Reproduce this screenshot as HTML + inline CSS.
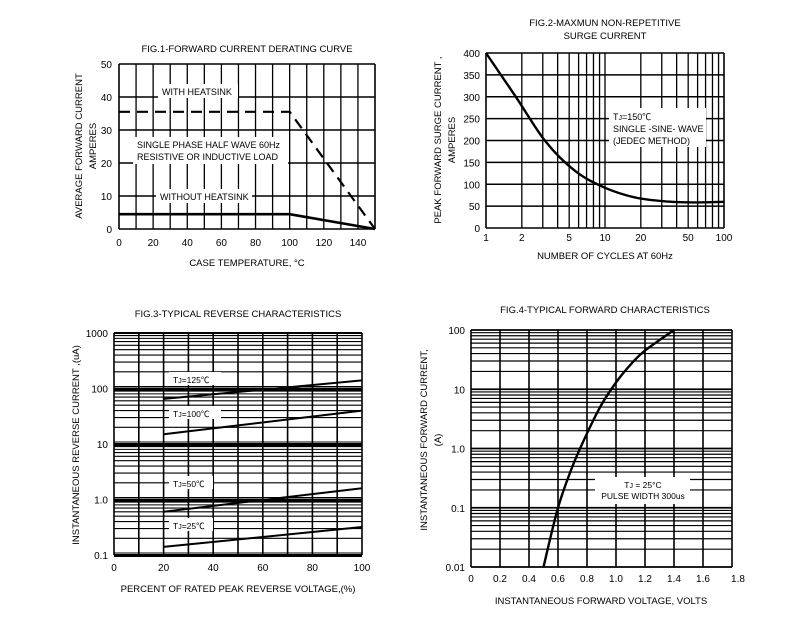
<!DOCTYPE html>
<html><head><meta charset="utf-8"><style>
html,body{margin:0;padding:0;background:#fff;}
svg{display:block;font-family:"Liberation Sans","Noto Sans CJK SC",sans-serif;}
</style></head><body>
<svg id="s" width="790" height="627" viewBox="0 0 790 627" xmlns="http://www.w3.org/2000/svg"></svg>
<script>
var s=document.getElementById('s'),o='';
function L(x1,y1,x2,y2,w,extra){o+='<line x1="'+x1+'" y1="'+y1+'" x2="'+x2+'" y2="'+y2+'" stroke="#000" stroke-width="'+(w||1.3)+'" '+(extra||'')+'/>';}
function T(x,y,t,a,sz,extra){o+='<text x="'+x+'" y="'+y+'" font-size="'+(sz||9.5)+'" text-anchor="'+(a||'middle')+'" '+(extra||'')+'>'+t+'</text>';}
function R(x,y,w,h){o+='<rect x="'+x+'" y="'+y+'" width="'+w+'" height="'+h+'" fill="#fff"/>';}
function P(pts,w,extra){o+='<polyline fill="none" stroke="#000" stroke-width="'+w+'" points="'+pts.map(function(p){return p[0].toFixed(1)+','+p[1].toFixed(1)}).join(' ')+'" '+(extra||'')+'/>';}
function CR(p,w){var d='M'+p[0][0].toFixed(1)+','+p[0][1].toFixed(1);
 for(var i=0;i<p.length-1;i++){var a=p[Math.max(i-1,0)],b=p[i],c=p[i+1],e=p[Math.min(i+2,p.length-1)];
 d+=' C'+(b[0]+(c[0]-a[0])/6).toFixed(1)+','+(b[1]+(c[1]-a[1])/6).toFixed(1)+' '+(c[0]-(e[0]-b[0])/6).toFixed(1)+','+(c[1]-(e[1]-b[1])/6).toFixed(1)+' '+c[0].toFixed(1)+','+c[1].toFixed(1);}
 o+='<path d="'+d+'" fill="none" stroke="#000" stroke-width="'+w+'"/>';}
// FIG1
var x0=119,x1=375,y0=229,y1=64;
for(var i=0;i<=15;i++){var x=x0+(x1-x0)*i/15;L(x,y1,x,y0,i==0||i==15?1.6:1.3);}
for(var i=0;i<=5;i++){var y=y0-(y0-y1)*i/5;L(x0,y,x1,y,1.6);T(112,y+4,i*10,'end',10);}
for(var i=0;i<=7;i++){T(x0+(x1-x0)*i*20/150,246,i*20,'middle',10);}
T(247,52,'FIG.1-FORWARD CURRENT DERATING CURVE','middle',9.5);
T(247,266,'CASE TEMPERATURE, °C','middle',9.5);
T(0,0,'AVERAGE FORWARD CURRENT','middle',9.5,'transform="translate(82,146) rotate(-90)"');
T(0,0,'AMPERES','middle',9.5,'transform="translate(96,146) rotate(-90)"');
R(158,84,80,14);T(162,95,'WITH HEATSINK','start',9);
R(133,137,155,27);T(137,148,'SINGLE PHASE HALF WAVE  60Hz','start',9);T(137,160,'RESISTIVE OR INDUCTIVE LOAD','start',9);
R(156,189,96,14);T(160,200,'WITHOUT HEATSINK','start',9);
function f1x(v){return x0+(x1-x0)*v/150;}function f1y(v){return y0-(y0-y1)*v/50;}
P([[x0,f1y(35.5)],[f1x(100),f1y(35.5)],[f1x(150),f1y(0)]],2.2,'stroke-dasharray="11,7"');
P([[x0,f1y(4.5)],[f1x(100),f1y(4.5)],[f1x(150),f1y(0)]],2.6);
// FIG2
var a0=486,a1=724,b0=228,b1=53;
function f2x(v){return a0+(a1-a0)*Math.log10(v)/2;}function f2y(v){return b0-(b0-b1)*v/400;}
[1,2,3,4,5,6,7,8,9,10,20,30,40,50,60,70,80,90,100].forEach(function(v){L(f2x(v),b1,f2x(v),b0,v==1||v==100?1.6:1.3);});
for(var i=0;i<=8;i++){L(a0,f2y(i*50),a1,f2y(i*50),1.6);T(480,f2y(i*50)+4,i*50,'end',10);}
[1,2,5,10,20,50,100].forEach(function(v){T(f2x(v),241,v,'middle',10);});
T(605,26,'FIG.2-MAXMUN NON-REPETITIVE','middle',9.5);T(605,39,'SURGE CURRENT','middle',9.5);
T(605,259,'NUMBER OF CYCLES AT 60Hz','middle',9.5);
T(0,0,'PEAK  FORWARD  SURGE CURRENT ,','middle',9.5,'transform="translate(441,140) rotate(-90)"');
T(0,0,'AMPERES','middle',9.5,'transform="translate(455,140) rotate(-90)"');
R(609,108,97,39);T(613,120,'T<tspan font-size="7">J</tspan>=150℃','start',9);T(613,132,'SINGLE -SINE- WAVE','start',9);T(613,144,'(JEDEC METHOD)','start',9);
var kn=[400,300,198,130,92,70,61,58.5,60];
CR(kn.map(function(v,i){return [a0+(a1-a0)*i/8,f2y(v)]}),2.4);
// FIG3
var c0=114,c1=362,d0=555,d1=333;
function f3x(v){return c0+(c1-c0)*v/100;}function f3y(v){return d0-(d0-d1)*(Math.log10(v)+1)/4;}
for(var i=0;i<=10;i++)L(f3x(i*10),d1,f3x(i*10),d0,1.6);
for(var d=-1;d<3;d++)for(var k=1;k<=9;k++){var v=k*Math.pow(10,d);L(c0,f3y(v),c1,f3y(v),k==1?2:1.1);
 if(k==1){L(c0,f3y(v)+1.5,c1,f3y(v)+1.5,1);L(c0,f3y(v)-2,c1,f3y(v)-2,1);}}
L(c0,d1,c1,d1,2);
['0.1','1.0','10','100','1000'].forEach(function(t,i){T(108,f3y(Math.pow(10,i-1))+4,t,'end',10);});
for(var i=0;i<=5;i++)T(f3x(i*20),571,i*20,'middle',10);
T(238,317,'FIG.3-TYPICAL REVERSE CHARACTERISTICS','middle',9.5);
T(238,592,'PERCENT OF RATED PEAK REVERSE VOLTAGE,(%)','middle',9.5);
T(0,0,'INSTANTANEOUS  REVERSE  CURRENT ,(uA)','middle',9.5,'transform="translate(79,445) rotate(-90)"');
[[125,65,140,381,'125'],[100,15,40,415,'100'],[50,0.6,1.6,485,'50'],[25,0.14,0.32,527,'25']].forEach(function(c){
 var w=c[4].length==3?52:44;R(169,c[3]-9,w,13);T(173,c[3]+2,'T<tspan font-size="7">J</tspan>='+c[4]+'℃','start',8.5);
 P([[f3x(20),f3y(c[1])],[f3x(100),f3y(c[2])]],2);});
// FIG4
var e0=471,e1=732,g0=567,g1=330;
function f4x(v){return e0+(e1-e0)*v/1.8;}function f4y(v){return g0-(g0-g1)*(Math.log10(v)+2)/4;}
for(var i=0;i<=9;i++)L(f4x(i*0.2),g1,f4x(i*0.2),g0,1.6);
for(var d=-2;d<2;d++)for(var k=1;k<=9;k++){var v=k*Math.pow(10,d);L(e0,f4y(v),e1,f4y(v),k==1?1.8:1.2);}
L(e0,g1,e1,g1,1.8);
['0.01','0.1','1.0','10','100'].forEach(function(t,i){T(465,f4y(Math.pow(10,i-2))+4,t,'end',10);});
['0','0.2','0.4','0.6','0.8','1.0','1.2','1.4','1.6','1.8'].forEach(function(t,i){T(f4x(i*0.2)+(i==9?6:0),582,t,'middle',10);});
T(605,313,'FIG.4-TYPICAL FORWARD CHARACTERISTICS','middle',9.5);
T(601,604,'INSTANTANEOUS FORWARD VOLTAGE, VOLTS','middle',9.5);
T(0,0,'INSTANTANEOUS FORWARD CURRENT,','middle',9.5,'transform="translate(427,440) rotate(-90)"');
T(0,0,'(A)','middle',9.5,'transform="translate(441,440) rotate(-90)"');
R(595,477,95,27);T(643,488,'T<tspan font-size="7">J</tspan> = 25°C','middle',8.5);T(643,499,'PULSE WIDTH 300us','middle',8.5);
var kn4=[[0.5,0.01],[0.6,0.1],[0.7,0.5],[0.8,1.8],[0.9,5.5],[1.0,13],[1.1,26],[1.2,45],[1.4,100]];
CR(kn4.map(function(p){return [f4x(p[0]),f4y(p[1])]}),2.4);
s.innerHTML=o;
</script>
</body></html>
